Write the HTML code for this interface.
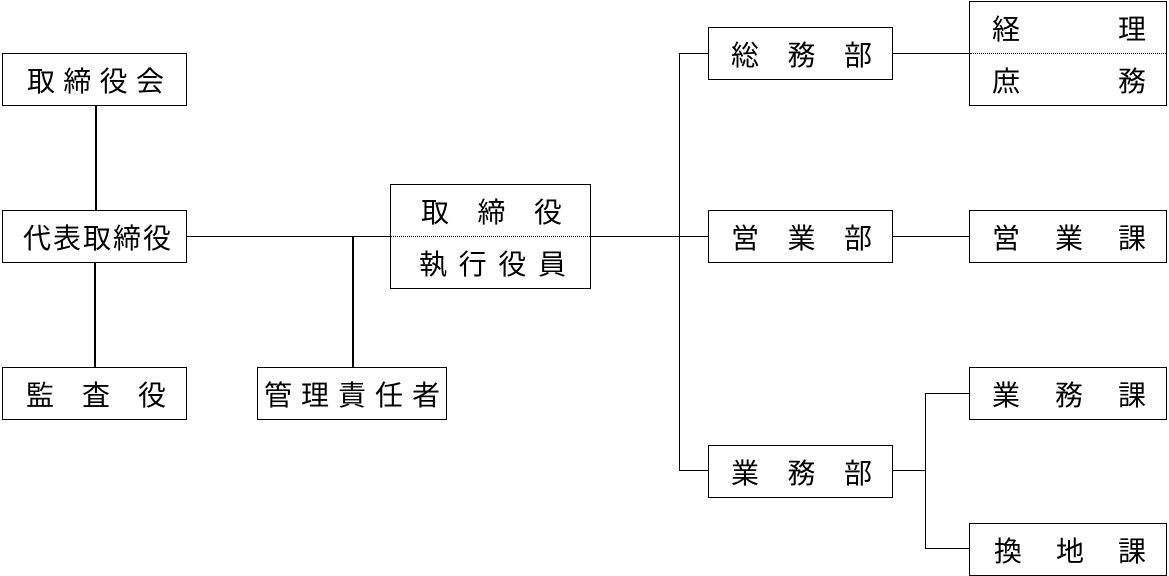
<!DOCTYPE html>
<html><head><meta charset="utf-8"><style>
body{margin:0;width:1169px;height:576px;background:#fff;position:relative;overflow:hidden;font-family:"Liberation Sans","Noto Sans CJK JP",sans-serif;}
.b{position:absolute;border:1px solid #000;box-sizing:border-box;background:#fff;}
.r{display:flex;justify-content:space-between;align-items:center;font-size:28px;line-height:1;color:#000;padding-top:5px!important;box-sizing:border-box;}
svg{position:absolute;left:0;top:0}
</style></head><body>
<svg width="1169" height="576">
<g stroke="#000" fill="none">
<line x1="96" y1="105" x2="96" y2="210" stroke-width="2"/>
<line x1="95" y1="262" x2="95" y2="367" stroke-width="2"/>
<line x1="186" y1="236.5" x2="390" y2="236.5"/>
<line x1="353" y1="237" x2="353" y2="367" stroke-width="2"/>
<line x1="590" y1="236.5" x2="708" y2="236.5"/>
<line x1="679.5" y1="53" x2="679.5" y2="471"/>
<line x1="679" y1="53.5" x2="708" y2="53.5"/>
<line x1="679" y1="470.5" x2="708" y2="470.5"/>
<line x1="892" y1="53.5" x2="969" y2="53.5"/>
<line x1="892" y1="236.5" x2="969" y2="236.5"/>
<line x1="892" y1="470.5" x2="925" y2="470.5"/>
<line x1="925.5" y1="393" x2="925.5" y2="549"/>
<line x1="925" y1="393.5" x2="969" y2="393.5"/>
<line x1="925" y1="548.5" x2="969" y2="548.5"/>
</g></svg>
<div class="b r" style="left:2px;top:53px;width:185px;height:53px;padding:0 22px 0 24px">取<span>締</span><span>役</span><span>会</span></div>
<div class="b r" style="left:2px;top:210px;width:185px;height:53px;padding:0 15px 0 20px">代<span>表</span><span>取</span><span>締</span><span>役</span></div>
<div class="b r" style="left:2px;top:367px;width:185px;height:53px;padding:0 20px 0 23px">監<span>査</span><span>役</span></div>
<div class="b r" style="left:257px;top:367px;width:190px;height:53px;padding:0 6px 0 6px">管<span>理</span><span>責</span><span>任</span><span>者</span></div>
<div class="b" style="left:390px;top:184px;width:201px;height:105px">
<div class="r" style="height:51px;padding:0 28px 0 30px">取<span>締</span><span>役</span></div>
<div style="border-top:1px dotted #000"></div>
<div class="r" style="height:51px;padding:0 24px 0 28px">執<span>行</span><span>役</span><span>員</span></div>
</div>
<div class="b r" style="left:708px;top:27px;width:185px;height:53px;padding:0 20px 0 22px">総<span>務</span><span>部</span></div>
<div class="b r" style="left:708px;top:210px;width:185px;height:53px;padding:0 20px 0 22px">営<span>業</span><span>部</span></div>
<div class="b r" style="left:708px;top:445px;width:185px;height:53px;padding:0 20px 0 22px">業<span>務</span><span>部</span></div>
<div class="b" style="left:969px;top:1px;width:198px;height:105px">
<div class="r" style="height:51px;padding:0 20px 0 22px">経<span>理</span></div>
<div style="border-top:1px dotted #000"></div>
<div class="r" style="height:51px;padding:0 20px 0 22px">庶<span>務</span></div>
</div>
<div class="b r" style="left:969px;top:210px;width:198px;height:53px;padding:0 20px 0 22px">営<span>業</span><span>課</span></div>
<div class="b r" style="left:969px;top:367px;width:198px;height:53px;padding:0 20px 0 22px">業<span>務</span><span>課</span></div>
<div class="b r" style="left:969px;top:523px;width:198px;height:53px;padding:0 20px 0 24px">換<span>地</span><span>課</span></div>
</body></html>
